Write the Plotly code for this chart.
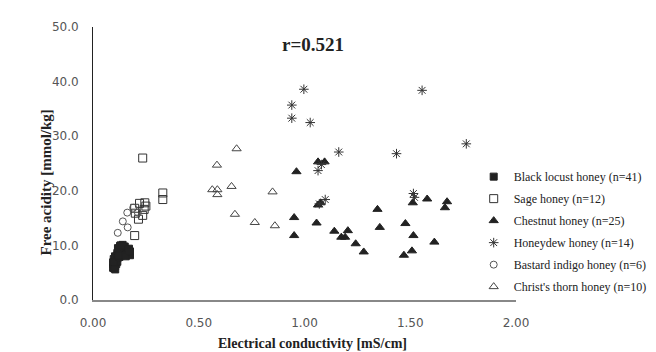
import plotly.graph_objects as go

# Black locust honey (n=41)
locust_x = [0.095, 0.100, 0.105, 0.097, 0.110, 0.100, 0.108, 0.115, 0.098, 0.112, 0.120, 0.104, 0.115, 0.095, 0.105,
            0.115, 0.120, 0.125, 0.130, 0.128, 0.135, 0.140, 0.140, 0.145, 0.150, 0.150, 0.155, 0.160, 0.160, 0.165,
            0.170, 0.175, 0.170, 0.135, 0.125, 0.118, 0.145, 0.155, 0.175, 0.130, 0.122]
locust_y = [5.9, 5.8, 6.2, 6.5, 6.6, 7.0, 7.2, 7.0, 7.5, 7.6, 7.8, 8.0, 8.2, 6.9, 5.6,
            8.6, 9.0, 8.4, 9.4, 9.9, 8.8, 9.6, 10.1, 9.1, 8.6, 9.8, 9.3, 8.9, 8.3, 9.0,
            8.6, 8.2, 9.4, 8.2, 7.9, 9.5, 8.3, 8.0, 8.9, 10.0, 8.2]

# Sage honey (n=12)
sage_x = [0.235, 0.33, 0.33, 0.245, 0.22, 0.197, 0.242, 0.235, 0.215, 0.197, 0.20, 0.25]
sage_y = [26.0, 19.6, 18.4, 17.8, 17.7, 16.8, 16.6, 15.5, 14.8, 11.8, 15.9, 17.2]

# Chestnut honey (n=25)
chestnut_x = [0.962, 1.064, 1.095, 1.064, 1.076, 0.951, 0.951, 1.057, 1.141, 1.174, 1.192, 1.205, 1.242,
              1.280, 1.345, 1.356, 1.477, 1.515, 1.508, 1.470, 1.512, 1.580, 1.614, 1.674, 1.664]
chestnut_y = [23.5, 25.3, 25.3, 17.4, 17.8, 15.1, 11.8, 14.1, 12.6, 11.5, 11.5, 12.7, 10.3,
              8.8, 16.6, 13.3, 14.0, 11.8, 9.0, 8.2, 17.8, 18.5, 10.6, 18.0, 16.9]

# Honeydew honey (n=14)
honeydew_x = [0.997, 1.556, 0.940, 0.940, 1.027, 1.765, 1.162, 1.435, 1.064, 1.515, 1.098, 1.070, 1.080, 1.520]
honeydew_y = [38.6, 38.4, 35.7, 33.3, 32.5, 28.6, 27.1, 26.8, 23.7, 19.5, 18.4, 17.6, 24.8, 18.8]

# Bastard indigo honey (n=6)
indigo_x = [0.162, 0.141, 0.164, 0.117, 0.212, 0.190]
indigo_y = [16.0, 14.4, 13.3, 12.3, 16.0, 16.9]

# Christ's thorn honey (n=10)
thorn_x = [0.679, 0.586, 0.564, 0.588, 0.588, 0.655, 0.671, 0.765, 0.849, 0.860]
thorn_y = [27.7, 24.7, 20.2, 20.2, 19.3, 20.8, 15.7, 14.2, 19.8, 13.6]

x_ticks = [0.0, 0.5, 1.0, 1.5, 2.0]
y_ticks = [0, 10, 20, 30, 40, 50]

series = [
    ("Black locust honey (n=41)", locust_x, locust_y, "square", 7, "#222222"),
    ("Sage honey (n=12)", sage_x, sage_y, "square-open", 8, "#333333"),
    ("Chestnut honey (n=25)", chestnut_x, chestnut_y, "triangle-up", 8, "#222222"),
    ("Honeydew honey (n=14)", honeydew_x, honeydew_y, "asterisk-open", 8, "#333333"),
    ("Bastard indigo honey (n=6)", indigo_x, indigo_y, "circle-open", 7, "#555555"),
    ("Christ's thorn honey (n=10)", thorn_x, thorn_y, "triangle-up-open", 8, "#444444"),
]

fig = go.Figure()
for i, (name, xs, ys, sym, size, col) in enumerate(series):
    fig.add_trace(go.Scatter(
        x=xs, y=ys, mode="markers", name=name, legendgroup=f"g{i}",
        marker=dict(symbol=sym, size=size, color=col, line=dict(color=col, width=1)),
    ))

fig.add_annotation(x=1.04, y=46.8, xref="x", yref="y", text="<b>r=0.521</b>", showarrow=False,
                   font=dict(family="Liberation Serif", size=19, color="#222222"))

# axis titles
fig.add_annotation(x=-0.135, y=0.43, xref="paper", yref="paper", textangle=-90,
                   text="<b>Free acidity [mmol/kg]</b>", showarrow=False,
                   font=dict(family="Liberation Serif", size=15, color="#222222"))
fig.add_annotation(x=0.52, y=-0.158, xref="paper", yref="paper", yanchor="middle",
                   text="<b>Electrical conductivity [mS/cm]</b>", showarrow=False,
                   font=dict(family="Liberation Serif", size=14, color="#222222"))

fig.update_layout(
    width=656, height=352,
    margin=dict(l=85, r=127, t=15, b=60),
    paper_bgcolor="white", plot_bgcolor="white",
    showlegend=True,
    legend=dict(x=0.90, xanchor="left", y=0.505, yanchor="top",
                font=dict(family="Liberation Serif", size=12, color="#222222"),
                bgcolor="rgba(0,0,0,0)", itemwidth=30, tracegroupgap=3),
    xaxis=dict(range=[0, 2], tickvals=x_ticks, ticktext=[f"{v:.2f}" for v in x_ticks],
               showgrid=False, zeroline=False, showline=True, linecolor="#888888", linewidth=2,
               ticks="outside", ticklen=11, tickcolor="rgba(0,0,0,0)",
               tickfont=dict(family="DejaVu Sans", size=12, color="#555555")),
    yaxis=dict(range=[0, 50], tickvals=y_ticks, ticktext=[f"{v:.1f}" for v in y_ticks],
               showgrid=False, zeroline=False, showline=True, linecolor="#222222", linewidth=1,
               ticks="outside", ticklen=11, tickcolor="rgba(0,0,0,0)",
               tickfont=dict(family="DejaVu Sans", size=12, color="#555555")),
)

fig.write_html("out.html")
